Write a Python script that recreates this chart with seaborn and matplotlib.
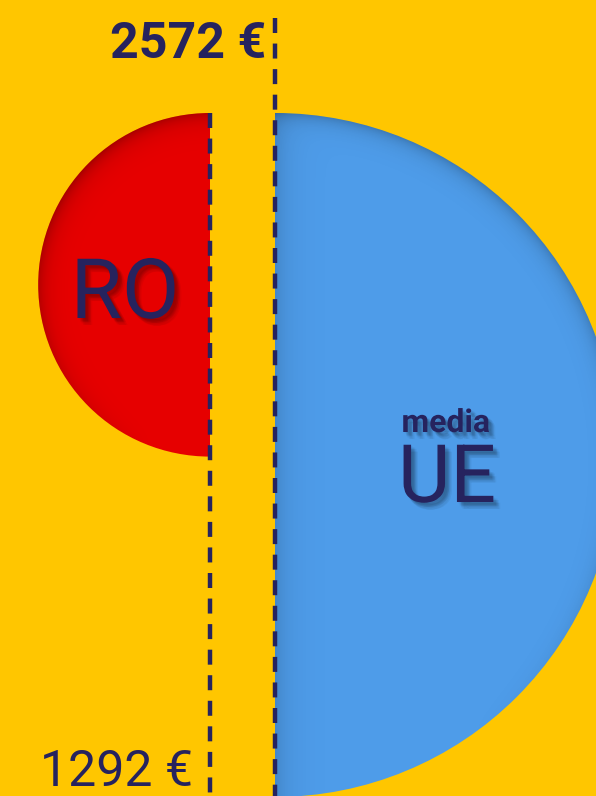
import numpy as np
import matplotlib
matplotlib.use("Agg")
import matplotlib.pyplot as plt
import matplotlib.patheffects as pe
from matplotlib.patches import Wedge
import seaborn as sns

# data: average net salary, Romania vs EU average
labels = ["RO", "UE"]
sublabels = ["", "media"]
salaries = [1292, 2572]
value_labels = ["1292 €", "2572 €"]

# style
bg = "#FFC600"
colors = ["#E60000", "#4E9CE9"]
navy = "#26235E"

sns.set_theme(style="white")
plt.rcParams["font.family"] = ["Roboto", "DejaVu Sans"]
plt.rcParams["lines.scale_dashes"] = False

W, H = 596, 796
fig = plt.figure(figsize=(W / 100, H / 100), dpi=100)
fig.patch.set_facecolor(bg)
ax = fig.add_axes([0, 0, 1, 1])
ax.set_facecolor(bg)
ax.set_xlim(0, W)
ax.set_ylim(H, 0)
ax.axis("off")

# layout (pixels)
px_per_eur = 342 / 2572.0
top = 113
edge_x = [210, 275]          # flat side of each half circle
sides = [(90, 270), (-90, 90)]  # left half for RO, right half for UE
yy, xx = np.mgrid[0:H, 0:W] + 0.5


def inner_shadow(cx, cy, r, toward, strength, falloff, strip=0.0):
    dist = np.hypot(xx - cx, yy - cy)
    d_in = np.clip(r - dist, 0, None)
    ang = np.arctan2(yy - cy, xx - cx)
    w = np.clip(0.3 + 0.7 * np.cos(ang - np.deg2rad(toward)), 0, 1)
    a = strength * w * np.exp(-d_in / falloff)
    if strip:
        a = a + strip * np.exp(-np.clip(xx - cx, 0, None) / 14.0)
    rgba = np.zeros((H, W, 4))
    rgba[..., 3] = np.clip(a, 0, 0.6)
    return rgba


shadow_fx = [pe.SimplePatchShadow(offset=(dx, -dy), shadow_rgbFace="black", alpha=0.045)
             for dx, dy in [(1, 1), (2, 2), (3, 3), (4, 3), (3, 4), (5, 5), (2, 3), (3, 2), (4, 5)]]
shadow_fx.append(pe.Normal())

for i, val in enumerate(salaries):
    r = val * px_per_eur
    cx, cy = edge_x[i], top + r
    wedge = Wedge((cx, cy), r, sides[i][0], sides[i][1], facecolor=colors[i],
                  edgecolor="none", zorder=1)
    ax.add_patch(wedge)
    if i == 0:
        rgba = inner_shadow(cx, cy, r, -135, 0.28, 9)
    else:
        rgba = inner_shadow(cx, cy, r, -60, 0.22, 8, strip=0.14)
    im = ax.imshow(rgba, extent=(0, W, H, 0), interpolation="bilinear", zorder=1.5)
    im.set_clip_path(wedge)

# dashed guide lines
line_top = [top, 18]
for i in range(2):
    ax.plot([edge_x[i], edge_x[i]], [line_top[i], H + 5], color=navy, lw=3.2,
            dashes=(10.8, 7.6), solid_capstyle="butt", dash_capstyle="butt", zorder=3)

# value labels
ax.text(193, 786, value_labels[0], color=navy, fontsize=36, ha="right",
        va="baseline", zorder=4)
ax.text(266, 58, value_labels[1], color=navy, fontsize=36, fontweight="bold",
        ha="right", va="baseline", zorder=4)

# circle labels
ax.text(125, 318, labels[0], color=navy, fontsize=60, ha="center",
        va="baseline", zorder=4, path_effects=shadow_fx)
ax.text(446, 432, sublabels[1], color=navy, fontsize=23, fontweight="bold",
        ha="center", va="baseline", zorder=4, path_effects=shadow_fx)
ax.text(447, 502, labels[1], color=navy, fontsize=58, ha="center",
        va="baseline", zorder=4, path_effects=shadow_fx)

fig.savefig("out.png", dpi=100, facecolor=bg)
